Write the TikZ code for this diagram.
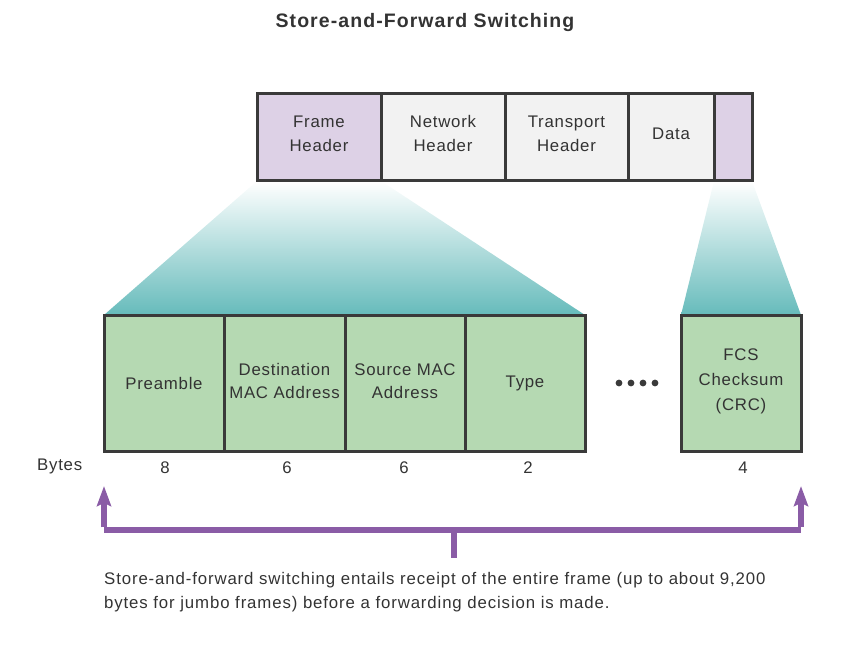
\documentclass[tikz,border=0pt]{standalone}
\usepackage{fontspec}
\setmainfont{Liberation Sans}
\newfontfamily\bodyfont[LetterSpace=4.5]{Liberation Sans}
\newfontfamily\capfont[LetterSpace=5.2]{Liberation Sans}
\newfontfamily\titlefont[LetterSpace=5.5]{Liberation Sans}
\usetikzlibrary{arrows.meta}
\definecolor{lav}{HTML}{DDD1E6}
\definecolor{lgray}{HTML}{F2F2F2}
\definecolor{grn}{HTML}{B5D9B2}
\definecolor{bord}{HTML}{3A3A3A}
\definecolor{teal}{HTML}{66BBBB}
\definecolor{purp}{HTML}{8A5CA6}
\definecolor{txt}{HTML}{333333}
\begin{document}
\begin{tikzpicture}[x=1pt,y=-1pt,
  cell/.style={draw=bord,line width=3pt,font=\bodyfont\fontsize{16.8}{23.5}\selectfont,text=txt,align=center,inner sep=0pt},
  lab/.style={font=\bodyfont\fontsize{16.8}{24}\selectfont,text=txt,inner sep=0pt},
  parr/.style={draw=purp,line width=5.5pt}]
\useasboundingbox (0,0) rectangle (867,652);
\node[font=\titlefont\bfseries\fontsize{19.5}{23}\selectfont,text=txt] (title) at (425,23) {Store-and-Forward Switching};
% funnels
\shade[top color=white,bottom color=teal] (257,181) -- (381,181) -- (585,315) -- (104,315) -- cycle;
\shade[top color=white,bottom color=teal] (714,181) -- (752,181) -- (801,315) -- (681,315) -- cycle;
% top bar
\node[cell,fill=lav,minimum width=124pt,minimum height=87pt] (fh) at (319,137.5) {Frame\\Header\\[-15.5pt]};
\node[cell,fill=lgray,minimum width=124pt,minimum height=87pt] (nh) at (443,137.5) {Network\\Header\\[-15.5pt]};
\node[cell,fill=lgray,minimum width=123pt,minimum height=87pt] (th) at (566.5,137.5) {Transport\\Header\\[-15.5pt]};
\node[cell,fill=lgray,minimum width=86pt,minimum height=87pt] (da) at (671,137.5) {Data\\[-15pt]};
\node[cell,fill=lav,minimum width=38pt,minimum height=87pt] (tr) at (733,137.5) {};
% bottom boxes
\node[cell,fill=grn,minimum width=120pt,minimum height=136pt] (pre) at (164,383) {Preamble};
\node[cell,fill=grn,minimum width=121pt,minimum height=136pt] (dst) at (284.5,383) {Destination\\MAC Address\\[-19.5pt]};
\node[cell,fill=grn,minimum width=120pt,minimum height=136pt] (src) at (405,383) {Source MAC\\Address\\[-19.5pt]};
\node[cell,fill=grn,minimum width=120pt,minimum height=136pt] (typ) at (525,383) {Type};
\node[cell,fill=grn,minimum width=120pt,minimum height=136pt,font=\bodyfont\fontsize{16.8}{25}\selectfont] (fcs) at (741,383) {FCS\\Checksum\\(CRC)\\[-19pt]};
% dots
\foreach \i [count=\k] in {619,631,643,655}
  \fill[bord] (\i,383) circle (3.4pt) coordinate (dot\k);
% bytes
\node[lab,anchor=west] (by) at (37,466) {Bytes};
\node[lab] (b1) at (165,468) {8};
\node[lab] (b2) at (287,468) {6};
\node[lab] (b3) at (404,468) {6};
\node[lab] (b4) at (528,468) {2};
\node[lab] (b5) at (743,468) {4};
% arrows
\coordinate (la) at (104,486);
\coordinate (ra) at (801,486);
\coordinate (lc) at (104,530);
\coordinate (rc) at (801,530);
\coordinate (mc) at (454,530);
\coordinate (ms) at (454,558);
\draw[parr,-{Stealth[length=20pt,width=14pt,inset=3pt]}] ([yshift=2.75pt]lc) -- (la);
\draw[parr,-{Stealth[length=20pt,width=14pt,inset=3pt]}] ([yshift=2.75pt]rc) -- (ra);
\draw[parr] (lc) -- (rc);
\draw[parr] (mc) -- (ms);
% caption
\node[lab,font=\capfont\fontsize{16.8}{24}\selectfont,anchor=north west,align=left,text width=740pt] (cap) at (104,572) {Store-and-forward switching entails receipt of the entire frame (up to about 9,200\\bytes for jumbo frames) before a forwarding decision is made.};
\end{tikzpicture}
\end{document}
